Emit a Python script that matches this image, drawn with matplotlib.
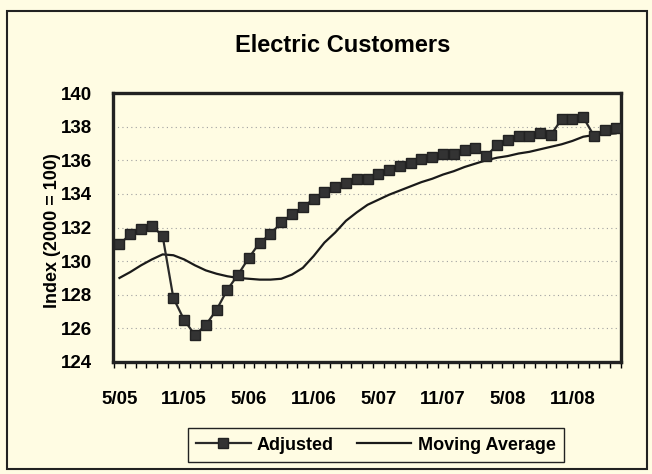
import matplotlib
matplotlib.use('Agg')
import matplotlib.pyplot as plt
from matplotlib.patches import Rectangle

plt.rcParams['font.family'] = ['Liberation Sans', 'DejaVu Sans']

# monthly index values, 5/05 .. 3/09
adjusted = [131.0, 131.6, 131.9, 132.1, 131.5, 127.8, 126.5, 125.6, 126.2, 127.1,
            128.3, 129.2, 130.2, 131.1, 131.6, 132.3, 132.8, 133.2, 133.7, 134.1,
            134.4, 134.65, 134.9, 134.9, 135.2, 135.4, 135.65, 135.85, 136.05, 136.2,
            136.35, 136.4, 136.6, 136.7, 136.25, 136.9, 137.2, 137.45, 137.45, 137.6,
            137.5, 138.45, 138.45, 138.55, 137.45, 137.8, 137.9]
moving_avg = [129.0, 129.35, 129.75, 130.1, 130.4, 130.35, 130.1, 129.75, 129.45, 129.25,
              129.1, 129.0, 128.95, 128.9, 128.9, 128.95, 129.2, 129.6, 130.3, 131.1,
              131.7, 132.4, 132.9, 133.35, 133.65, 133.95, 134.2, 134.45, 134.7, 134.9,
              135.15, 135.35, 135.6, 135.8, 136.0, 136.15, 136.25, 136.4, 136.5, 136.65,
              136.8, 136.95, 137.15, 137.4, 137.5, 137.55, 137.6]
tick_labels = ['5/05', '11/05', '5/06', '11/06', '5/07', '11/07', '5/08', '11/08']
yticks = [124, 126, 128, 130, 132, 134, 136, 138, 140]

bg = '#fffce3'
months = list(range(len(adjusted)))

fig = plt.figure(figsize=(6.52, 4.74), dpi=100, facecolor=bg)
# outer frame
fig.patches.append(Rectangle((7/652, 5/474), 640/652, 458/474, transform=fig.transFigure,
                             fill=False, edgecolor='#222222', linewidth=1.5))

ax = fig.add_axes([113/652, 112/474, 508/652, 269/474], facecolor=bg)
ax.plot(months, adjusted, color='#2a2a2a', linewidth=1.6, marker='s', markersize=6.5,
        markerfacecolor='#333333', markeredgecolor='#222222', label='Adjusted', zorder=3)
ax.plot(months, moving_avg, color='#1a1a1a', linewidth=1.6, label='Moving Average', zorder=2)

ax.set_xlim(-0.6, len(adjusted) - 0.6)
ax.set_ylim(124, 140)
ax.set_yticks(yticks)
ax.set_yticklabels([str(v) for v in yticks], fontsize=13.5, fontweight='bold')
ax.set_xticks(months[::6])
ax.set_xticklabels(tick_labels, fontsize=13.5, fontweight='bold')
ax.set_xticks([m - 0.5 for m in months] + [len(adjusted) - 0.5], minor=True)
ax.tick_params(axis='x', which='major', length=0, pad=21)
ax.tick_params(axis='x', which='minor', length=4, width=1, direction='out')
ax.tick_params(axis='y', length=0, pad=15)
ax.grid(axis='y', linestyle=(0, (1, 3)), color='#a0a0a0', linewidth=0.8)
for s in ax.spines.values():
    s.set_linewidth(2.4)
    s.set_color('#222222')

fig.text(343/652, 1 - 46/474, 'Electric Customers', ha='center', va='center',
         fontsize=17, fontweight='bold')
fig.text(53/652, 1 - 231/474, 'Index (2000 = 100)', ha='center', va='center',
         rotation=90, fontsize=13, fontweight='bold')

fig.legend(loc='center', bbox_to_anchor=(376/652, 1 - 445/474), ncol=2, frameon=True,
           fancybox=False, edgecolor='#222222', facecolor=bg, framealpha=1,
           prop={'size': 13, 'weight': 'bold'}, handlelength=3.0, handletextpad=0.35,
           columnspacing=1.3, borderpad=0.45)

fig.savefig('out.png', dpi=100, facecolor=bg)
